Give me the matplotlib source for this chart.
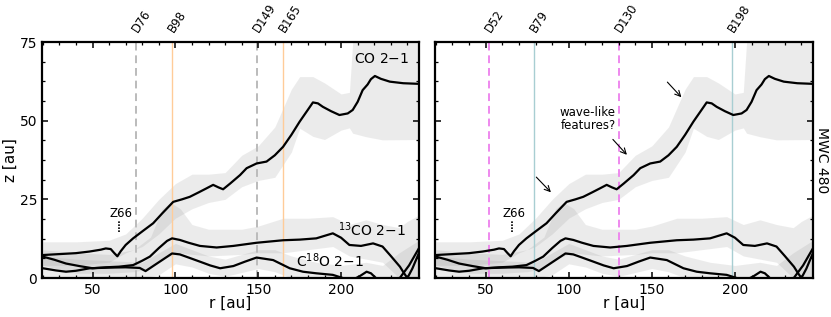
import numpy as np
import matplotlib
matplotlib.use("Agg")
import matplotlib.pyplot as plt
from matplotlib.ticker import MultipleLocator


# emission surfaces of MWC 480 (r [au], z [au])
co_r = [20, 30, 40, 48, 55, 58, 61, 63, 65, 67, 70, 74.5, 80, 86.6, 92, 98.7, 104, 108.7,
        114, 118.8, 122.8, 126, 128.8, 133, 139, 143, 149, 155, 160, 165, 170, 175, 180,
        183, 186, 189, 194, 199, 204, 207, 210, 213, 216, 218, 220.4, 224, 229.4, 237.5, 247]
co_z = [7.3, 7.6, 7.9, 8.4, 9.0, 9.4, 9.2, 8.0, 6.9, 8.5, 10.5, 12.6, 14.8, 17.4, 20.5, 24.2, 25.0, 25.8,
        27.2, 28.5, 29.6, 28.8, 28.2, 30.0, 32.7, 34.9, 36.4, 37.0, 39.0, 41.7, 45.5, 49.7, 53.5,
        55.8, 55.5, 54.4, 53.0, 51.8, 52.3, 53.4, 56.0, 59.7, 61.5, 63.2, 64.2, 63.3, 62.4, 61.9, 61.7]

co_band_r = [20, 40, 60, 70, 80, 90, 100, 110, 120, 130, 140, 150, 160, 170, 175, 183, 190, 200, 205, 207, 215, 225, 247]
co_band_hi = [11.5, 11.5, 12, 14, 19, 25, 30, 33, 33, 33.5, 39, 42, 48, 60, 64, 64, 62, 58.5, 59, 75, 75, 75, 75]
co_band_lo = [4, 4, 5, 8, 10, 14, 19, 22, 24, 25, 29, 31, 32, 40, 47.6, 45, 44, 47, 47.7, 46, 44.9, 43.9, 44]

c13_r = [20, 27, 34, 42, 50, 58, 66, 74.5, 80, 84.6, 90, 95, 98, 102.7, 108, 114.8, 124.9, 135,
         149, 157, 165, 175, 185, 195, 200, 205, 212, 219.3, 225, 230, 235.5, 238, 240, 243, 247]
c13_z = [6.8, 5.8, 4.6, 3.8, 3.1, 3.4, 3.6, 4.1, 5.5, 6.8, 9.5, 11.8, 12.6, 12.1, 11.2, 10.2, 9.7, 10.2,
         11.2, 11.6, 12.0, 12.2, 12.6, 14.2, 12.8, 10.5, 10.2, 11.0, 10.0, 7.0, 3.6, 1.5, 0.0, 3.0, 8.0]

c13_band_r = [20, 40, 60, 75, 85, 92, 97, 103, 110, 120, 140, 150, 165, 180, 195, 205, 215, 225, 235, 240, 247]
c13_band_hi = [9, 8, 7.5, 9, 13, 22, 24, 22, 17, 15.5, 15.5, 16.5, 19, 19, 19.5, 17, 18.5, 17, 16, 18, 20]
c13_band_lo = [4, 1.5, 1.5, 2, 3, 6, 7, 8, 7.5, 7, 7.5, 8, 8, 9, 10, 7, 6, 5, 0, 0, 0]

c18_r = [20, 28, 34, 40, 48.4, 60, 70, 78.5, 82, 90, 98, 102.7, 108, 114.8, 121, 127, 135, 142,
         149, 159, 169, 177, 185, 195, 201, 206, 211, 215.4, 218, 221, 228, 234, 241, 247]
c18_z = [3.1, 2.4, 2.0, 2.3, 3.1, 3.3, 3.4, 3.2, 2.2, 5.0, 7.8, 7.5, 6.5, 5.2, 4.0, 3.1, 3.8, 5.2,
         6.5, 5.7, 3.1, 2.0, 1.5, 1.0, 0.0, -0.8, 0.5, 2.0, 1.5, 0.0, -3.0, -1.0, 4.0, 9.5]

c18_band_r = [20, 40, 60, 80, 90, 100, 110, 120, 130, 150, 160, 170, 185, 200, 215, 225, 235, 247]
c18_band_hi = [7, 6, 5.5, 5, 8, 11, 9, 7, 6, 9, 9, 7, 5, 4, 5, 4, 8, 12]
c18_band_lo = [0, 0, 0, 0, 1, 4.5, 3.5, 1.5, 0.5, 3, 2, 0, 0, 0, 0, 0, 0, 0]

# ring / gap locations
left_gaps = [76, 149]
left_rings = [98, 165]
right_gaps = [52, 130]
right_rings = [79, 198]


def draw_surfaces(ax):
    bands = [(co_band_r, co_band_lo, co_band_hi),
             (c13_band_r, c13_band_lo, c13_band_hi),
             (c18_band_r, c18_band_lo, c18_band_hi)]
    for r, lo, hi in bands:
        ax.fill_between(r, lo, hi, color="0.6", alpha=0.19, lw=0)
    for r, z in [(co_r, co_z), (c13_r, c13_z), (c18_r, c18_z)]:
        ax.plot(r, z, color="k", lw=1.6)

    # Z66 marker
    ax.text(67, 20.6, "Z66", ha="center", va="center", fontsize=8.5)
    ax.plot([66, 66], [14.7, 18.4], color="k", lw=1.2, ls=(0, (1, 0.8)))


def mark_rings(ax, gaps, rings, gcol, rcol):
    labels = []
    for r in gaps:
        ax.axvline(r, color=gcol, ls=(0, (4, 2.5)), lw=1.4, zorder=1)
        labels.append((r, "D%d" % r))
    for r in rings:
        ax.axvline(r, color=rcol, lw=1.0, zorder=1)
        labels.append((r, "B%d" % r))
    for r, s in labels:
        ax.text(r - 0.5, 78.6, s, rotation=57, rotation_mode="anchor", ha="left", va="center",
                fontsize=8.5, clip_on=False)


def style_axes(ax):
    ax.set_xlim(19.5, 247)
    ax.set_ylim(0, 75)
    ax.xaxis.set_major_locator(MultipleLocator(50))
    ax.xaxis.set_minor_locator(MultipleLocator(10))
    ax.yaxis.set_major_locator(MultipleLocator(25))
    ax.yaxis.set_minor_locator(MultipleLocator(6.25))
    ax.tick_params(which="both", direction="in", top=True, right=True, labelsize=10)
    ax.tick_params(which="major", length=4.5, width=1.1)
    ax.tick_params(which="minor", length=2.5, width=0.9)
    for sp in ax.spines.values():
        sp.set_linewidth(1.6)
    ax.set_xlabel("r [au]", fontsize=11, labelpad=-1)


fig = plt.figure(figsize=(8.31, 3.17), dpi=100)
ax1 = fig.add_axes([0.0505, 0.123, 0.4537, 0.7445])
ax2 = fig.add_axes([0.5235, 0.123, 0.4549, 0.7445])

# left panel
draw_surfaces(ax1)
mark_rings(ax1, left_gaps, left_rings, "#bbbbbb", "#ffcc99")
style_axes(ax1)
ax1.set_ylabel("z [au]", fontsize=11, labelpad=1)
ax1.text(224.6, 69.6, "CO 2$-$1", ha="center", va="center", fontsize=10)
ax1.text(218.4, 15.3, "$^{13}$CO 2$-$1", ha="center", va="center", fontsize=10)
ax1.text(193.2, 5.4, "C$^{18}$O 2$-$1", ha="center", va="center", fontsize=10)

# right panel
draw_surfaces(ax2)
mark_rings(ax2, right_gaps, right_rings, "#ee88ee", "#a8ced2")
style_axes(ax2)
ax2.set_yticklabels([])
ax2.text(1.024, 0.5, "MWC 480", transform=ax2.transAxes, rotation=270,
         ha="center", va="center", fontsize=10)
ax2.text(111.5, 50.5, "wave-like\nfeatures?", ha="center", va="center", fontsize=8.5,
         linespacing=1.0)
arrows = [((79.3, 32.7), (90.4, 26.6)),
          ((125.4, 44.7), (136.1, 38.5)),
          ((158.2, 62.9), (168.9, 56.8))]
for start, end in arrows:
    ax2.annotate("", xy=end, xytext=start,
                 arrowprops=dict(arrowstyle="->", color="k", lw=0.8))

fig.savefig("out.png", dpi=100)
